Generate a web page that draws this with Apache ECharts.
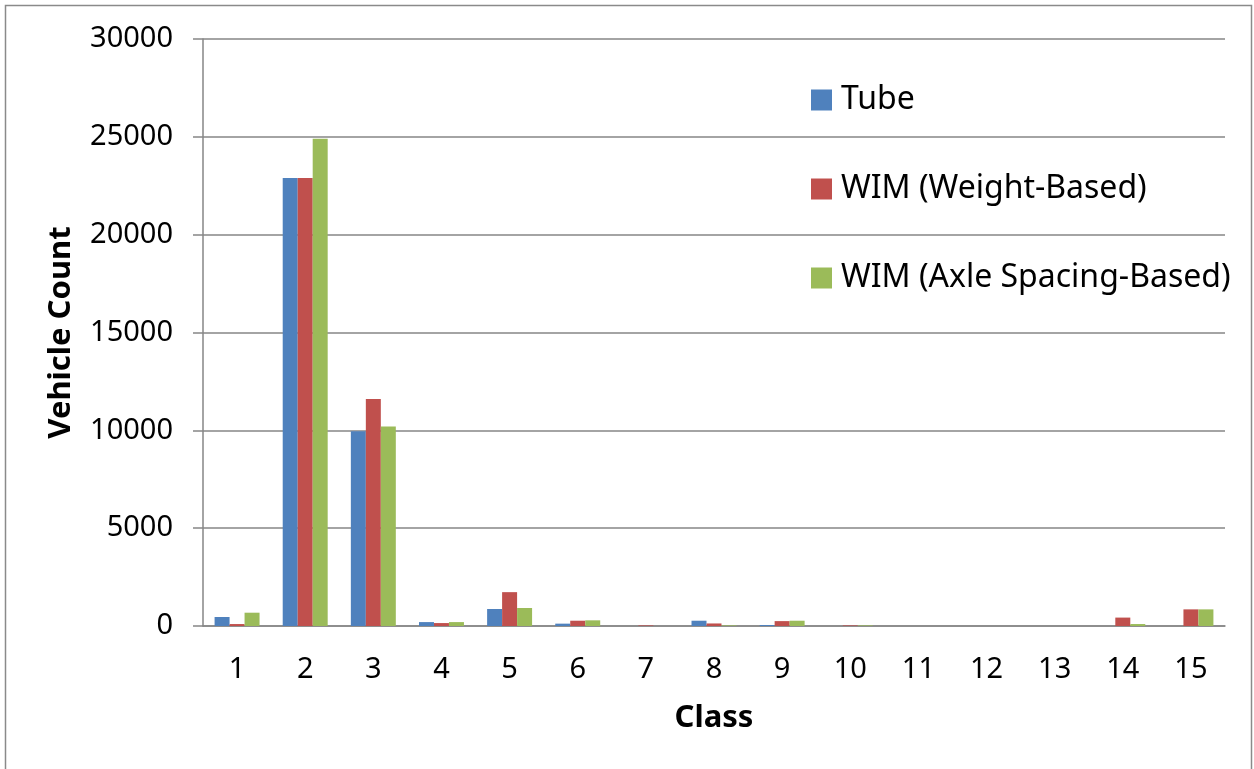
<!DOCTYPE html>
<html>
<head>
<meta charset="utf-8">
<script src="https://cdn.jsdelivr.net/npm/echarts@6/dist/echarts.min.js"></script>
<style>
  html, body { margin: 0; padding: 0; background: #fff; }
  #chart { width: 1254px; height: 769px; }
</style>
</head>
<body>
<div id="chart"></div>
<script>
const classes = ['1', '2', '3', '4', '5', '6', '7', '8', '9', '10', '11', '12', '13', '14', '15'];
const tube = [460, 22900, 9950, 200, 870, 120, 0, 270, 50, 0, 0, 0, 0, 0, 0];
const wimWeight = [100, 22900, 11600, 150, 1730, 270, 30, 130, 250, 30, 0, 0, 0, 430, 850];
const wimAxle = [680, 24900, 10200, 200, 920, 290, 0, 30, 270, 30, 0, 0, 0, 100, 850];

const FONT = 'Noto Sans';
const GRID_GREY = '#868686';

const chart = echarts.init(document.getElementById('chart'));

const barSeries = (name, values, color) => ({
  name: name,
  type: 'bar',
  data: values,
  barGap: '0%',
  barCategoryGap: '34%',
  itemStyle: { color: color },
  emphasis: { disabled: true }
});

const option = {
  animation: false,
  backgroundColor: '#fff',
  textStyle: { fontFamily: FONT },
  graphic: [{
    type: 'rect',
    shape: { x: 5.5, y: 5.5, width: 1246, height: 790 },
    style: { fill: 'none', stroke: '#8a8a8a', lineWidth: 1.5 },
    silent: true
  }],
  grid: { left: 203, right: 29, top: 39, bottom: 143 },
  legend: {
    orient: 'vertical',
    left: 811,
    top: 82,
    padding: 0,
    itemWidth: 21,
    itemHeight: 21,
    itemGap: 53,
    icon: 'rect',
    textStyle: { fontFamily: FONT, fontSize: 32, color: '#000', lineHeight: 36, padding: [0, 0, 0, 4] },
    data: ['Tube', 'WIM (Weight-Based)', 'WIM (Axle Spacing-Based)']
  },
  xAxis: {
    type: 'category',
    data: classes,
    name: 'Class',
    nameLocation: 'middle',
    nameGap: 77,
    nameTextStyle: { fontFamily: FONT, fontSize: 31, fontWeight: 'bold', color: '#000' },
    axisLine: { lineStyle: { color: GRID_GREY, width: 1.5 } },
    axisTick: { length: 9, lineStyle: { color: GRID_GREY, width: 1.5 } },
    axisLabel: { fontFamily: FONT, fontSize: 29, color: '#000', margin: 29 }
  },
  yAxis: {
    type: 'value',
    min: 0,
    max: 30000,
    interval: 5000,
    name: 'Vehicle Count',
    nameLocation: 'middle',
    nameGap: 126,
    nameTextStyle: { fontFamily: FONT, fontSize: 31, fontWeight: 'bold', color: '#000' },
    axisLine: { show: true, lineStyle: { color: GRID_GREY, width: 1.5 } },
    axisTick: { show: true, length: 10, lineStyle: { color: GRID_GREY, width: 1.5 } },
    axisLabel: { fontFamily: FONT, fontSize: 29, color: '#000', margin: 30, formatter: v => String(v) },
    splitLine: { lineStyle: { color: GRID_GREY, width: 1.5 } }
  },
  series: [
    barSeries('Tube', tube, '#4F81BD'),
    barSeries('WIM (Weight-Based)', wimWeight, '#C0504D'),
    barSeries('WIM (Axle Spacing-Based)', wimAxle, '#9BBB59')
  ]
};

chart.setOption(option);
</script>
</body>
</html>
